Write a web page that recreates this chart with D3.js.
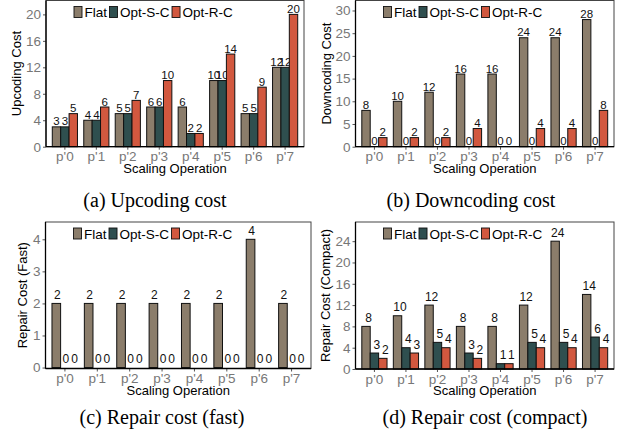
<!DOCTYPE html>
<html>
<head>
<meta charset="utf-8">
<script src="https://cdn.jsdelivr.net/npm/d3@7"></script>
<style>
  body { margin: 0; background: #fff; }
  svg { display: block; }
</style>
</head>
<body>
<div id="chart"></div>
<script>
// categories and series
const ops = ["p'0", "p'1", "p'2", "p'3", "p'4", "p'5", "p'6", "p'7"];
const seriesNames = ["Flat", "Opt-S-C", "Opt-R-C"];
const seriesColors = ["#8b7d6b", "#2f4f4f", "#d2583f"];

// (a) upcoding
const upFlat = [3, 4, 5, 6, 6, 10, 5, 12];
const upOptS = [3, 4, 5, 6, 2, 10, 5, 12];
const upOptR = [5, 6, 7, 10, 2, 14, 9, 20];
const upTicks = [0, 4, 8, 12, 16, 20];

// (b) downcoding
const downFlat = [8, 10, 12, 16, 16, 24, 24, 28];
const downOptS = [0, 0, 0, 0, 0, 0, 0, 0];
const downOptR = [2, 2, 2, 4, 0, 4, 4, 8];
const downTicks = [0, 5, 10, 15, 20, 25, 30];

// (c) repair fast
const fastFlat = [2, 2, 2, 2, 2, 2, 4, 2];
const fastOptS = [0, 0, 0, 0, 0, 0, 0, 0];
const fastOptR = [0, 0, 0, 0, 0, 0, 0, 0];
const fastTicks = [0, 1, 2, 3, 4];

// (d) repair compact
const compFlat = [8, 10, 12, 8, 8, 12, 24, 14];
const compOptS = [3, 4, 5, 3, 1, 5, 5, 6];
const compOptR = [2, 3, 4, 2, 1, 4, 4, 4];
const compTicks = [0, 4, 8, 12, 16, 20, 24];

const captions = ["(a) Upcoding cost", "(b) Downcoding cost", "(c) Repair cost (fast)", "(d) Repair cost (compact)"];
const yTitles = ["Upcoding Cost", "Downcoding Cost", "Repair Cost (Fast)", "Repair Cost (Compact)"];

const svg = d3.select("#chart").append("svg")
    .attr("width", 629)
    .attr("height", 437);

function drawPanel(p) {
    const g = svg.append("g");
    const series = p.series;

    const x = d3.scaleBand()
        .domain(ops)
        .range([p.left, p.right])
        .paddingInner(0.2)
        .paddingOuter(0.2);
    const xSub = d3.scaleBand()
        .domain(seriesNames)
        .range([0, x.bandwidth()]);
    const y = d3.scaleLinear()
        .domain([p.ymin, p.ymax])
        .range([p.bottom, p.top]);

    // frame
    g.append("rect")
        .attr("x", p.left).attr("y", p.top)
        .attr("width", p.right - p.left).attr("height", p.bottom - p.top)
        .attr("fill", "none").attr("stroke", "#444").attr("stroke-width", 1);

    // bars
    series.forEach(function(vals, si) {
        g.selectAll(".bar" + si)
            .data(vals)
            .enter()
            .append("rect")
            .attr("x", function(d, i) { return x(ops[i]) + xSub(seriesNames[si]); })
            .attr("y", function(d) { return y(d); })
            .attr("width", xSub.bandwidth())
            .attr("height", function(d) { return y(0) - y(d); })
            .attr("fill", seriesColors[si])
            .attr("stroke", "#111")
            .attr("stroke-width", 1);

        g.selectAll(".lab" + si)
            .data(vals)
            .enter()
            .append("text")
            .attr("x", function(d, i) { return x(ops[i]) + xSub(seriesNames[si]) + xSub.bandwidth() / 2 + p.labDx; })
            .attr("y", function(d) { return y(d) - p.labGap; })
            .attr("text-anchor", "middle")
            .style("font", p.labSize + "px 'Liberation Sans', Arial, sans-serif")
            .attr("fill", "#111")
            .text(function(d) { return d; });
    });

    // axes
    const yAxis = g.append("g")
        .attr("transform", `translate(${p.left},0)`)
        .call(d3.axisLeft(y).tickValues(p.ticks).tickFormat(d3.format("d")).tickSize(3).tickPadding(2));
    const xAxis = g.append("g")
        .attr("transform", `translate(0,${p.bottom})`)
        .call(d3.axisBottom(x).tickSize(3).tickPadding(2));
    [xAxis, yAxis].forEach(function(ax) {
        ax.select(".domain").remove();
        ax.selectAll(".tick line").attr("stroke", "#555");
        ax.selectAll("text")
            .attr("fill", "#777")
            .style("font", "13.5px 'Liberation Sans', Arial, sans-serif");
    });
    g.append("line")
        .attr("x1", p.left).attr("x2", p.left)
        .attr("y1", p.top).attr("y2", p.bottom)
        .attr("stroke", "#000").attr("stroke-width", 1.3);
    g.append("line")
        .attr("x1", p.left).attr("x2", p.right)
        .attr("y1", p.bottom).attr("y2", p.bottom)
        .attr("stroke", "#000").attr("stroke-width", 1.3);

    // axis titles
    g.append("text")
        .attr("x", (p.left + p.right) / 2)
        .attr("y", p.bottom + 26)
        .attr("text-anchor", "middle")
        .style("font", "13px 'Liberation Sans', Arial, sans-serif")
        .text("Scaling Operation");
    g.append("text")
        .attr("transform", `translate(${p.ytx},${(p.top + p.bottom) / 2}) rotate(-90)`)
        .attr("text-anchor", "middle")
        .style("font", "13px 'Liberation Sans', Arial, sans-serif")
        .text(p.ytitle);

    // legend
    let lx = p.left + 28;
    const ly = p.top + 12;
    seriesNames.forEach(function(name, si) {
        g.append("rect")
            .attr("x", lx).attr("y", ly - 6)
            .attr("width", 8).attr("height", 11)
            .attr("fill", seriesColors[si])
            .attr("stroke", "#111").attr("stroke-width", 0.9);
        const t = g.append("text")
            .attr("x", lx + 10.5).attr("y", ly + 4.5)
            .style("font", "13.5px 'Liberation Sans', Arial, sans-serif")
            .text(name);
        lx += 10.5 + t.node().getComputedTextLength() + 2.5;
    });

    // caption
    svg.append("text")
        .attr("x", p.capX).attr("y", p.capY)
        .attr("text-anchor", "middle")
        .style("font", "20px 'Liberation Serif', 'Times New Roman', serif")
        .text(p.caption);
}

drawPanel({ series: [upFlat, upOptS, upOptR], ticks: upTicks, ymin: 0, ymax: 22.1,
    left: 46, right: 304, top: 0.5, bottom: 146.7, ytitle: yTitles[0], ytx: 21,
    labSize: 11.5, labGap: 1.5, labDx: 0, caption: captions[0], capX: 155, capY: 207 });
drawPanel({ series: [downFlat, downOptS, downOptR], ticks: downTicks, ymin: 0, ymax: 32.2,
    left: 355.5, right: 614, top: 0.5, bottom: 146.7, ytitle: yTitles[1], ytx: 331,
    labSize: 11.5, labGap: 1.5, labDx: 0, caption: captions[1], capX: 471, capY: 207 });
drawPanel({ series: [fastFlat, fastOptS, fastOptR], ticks: fastTicks, ymin: -0.03, ymax: 4.54,
    left: 45.5, right: 311, top: 222, bottom: 368.5, ytitle: yTitles[2], ytx: 27,
    labSize: 12, labGap: 4.5, labDx: 1, caption: captions[2], capX: 162, capY: 424 });
drawPanel({ series: [compFlat, compOptS, compOptR], ticks: compTicks, ymin: 0, ymax: 27.6,
    left: 355.5, right: 614, top: 222, bottom: 369, ytitle: yTitles[3], ytx: 330,
    labSize: 12, labGap: 4.5, labDx: 2.5, caption: captions[3], capX: 485, capY: 424 });
</script>
</body>
</html>
